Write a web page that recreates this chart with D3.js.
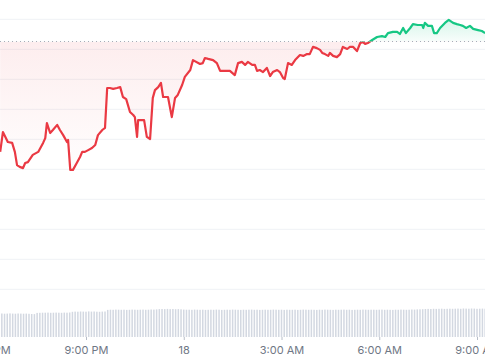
<!DOCTYPE html>
<html>
<head>
  <meta charset="utf-8">
  <script src="https://d3js.org/d3.v7.min.js"></script>
  <style>
    body { margin: 0; background: #fff; }
    .axis text { font-family: Inter, "Noto Sans", sans-serif; font-size: 11px; fill: #6f7785; }
  </style>
</head>
<body>
<script>
// price line (time, value)
var priceTimes = ["17 18:22","17 18:27","17 18:36","17 18:44","17 18:49","17 18:53","17 18:58","17 19:04","17 19:08","17 19:13",
  "17 19:22","17 19:32","17 19:41","17 19:45","17 19:48","17 19:54","17 19:59","17 20:07","17 20:12","17 20:18",
  "17 20:25","17 20:27","17 20:31","17 20:36","17 20:43","17 20:49","17 20:53","17 20:58","17 21:04","17 21:11",
  "17 21:17","17 21:22","17 21:30","17 21:35","17 21:39","17 21:44","17 21:50","17 21:57","17 22:03","17 22:08",
  "17 22:14","17 22:21","17 22:27","17 22:30","17 22:34","17 22:36","17 22:47","17 22:52","17 22:58","17 23:03",
  "17 23:07","17 23:13","17 23:18","17 23:22","17 23:31","17 23:38","17 23:44","17 23:49","17 23:57","18 00:02",
  "18 00:12","18 00:17","18 00:30","18 00:35","18 00:39","18 00:45","18 00:54","18 01:01","18 01:07","18 01:25",
  "18 01:34","18 01:40","18 01:47","18 01:53","18 01:58","18 02:06","18 02:11","18 02:15","18 02:20","18 02:26",
  "18 02:33","18 02:39","18 02:44","18 02:52","18 02:57","18 03:03","18 03:06","18 03:12","18 03:19","18 03:25",
  "18 03:34","18 03:40","18 03:47","18 03:52","18 03:58","18 04:05","18 04:11","18 04:15","18 04:20","18 04:26",
  "18 04:29","18 04:35","18 04:42","18 04:48","18 04:53","18 05:01","18 05:06","18 05:12","18 05:19","18 05:25",
  "18 05:30","18 05:34","18 05:39","18 05:47","18 05:56","18 06:05","18 06:11","18 06:16","18 06:25","18 06:33",
  "18 06:38","18 06:44","18 06:49","18 06:57","18 07:02","18 07:11","18 07:19","18 07:21","18 07:24","18 07:30",
  "18 07:37","18 07:41","18 07:46","18 07:52","18 08:01","18 08:08","18 08:16","18 08:23","18 08:29","18 08:34",
  "18 08:40","18 08:47","18 08:53","18 09:02","18 09:09","18 09:15"];
var priceValues = [145.8,152.4,149.1,148.8,145.8,141.4,140.8,140.4,142.1,142.4,
  144.8,145.8,148.8,150.4,155.4,152.1,153.1,154.8,153.1,151.4,
  149.1,149.8,139.8,139.8,142.1,144.1,145.8,145.8,146.4,147.1,
  148.1,151.4,153.1,153.8,167.1,167.1,166.8,167.1,167.4,164.1,
  163.4,159.1,158.1,157.4,150.8,156.4,156.4,150.8,150.1,163.8,
  166.4,167.4,168.8,164.1,164.1,157.4,163.8,164.8,168.1,170.8,
  173.1,176.4,175.1,175.4,177.1,176.8,176.4,175.4,172.8,172.8,
  171.4,175.4,175.8,174.8,175.8,174.8,174.8,172.8,173.1,172.4,
  173.8,171.1,172.4,173.1,172.4,170.4,170.1,175.4,174.8,176.4,
  178.1,177.8,178.4,178.4,180.8,180.4,179.8,178.8,178.4,177.8,
  178.8,177.8,177.4,178.4,180.8,180.1,180.8,180.8,179.4,182.1,
  182.4,181.8,182.1,183.1,184.1,184.4,184.1,185.4,185.8,185.8,
  185.1,187.1,185.4,187.1,188.4,188.1,188.1,187.1,188.8,187.8,
  187.8,185.4,185.4,187.1,188.8,189.8,188.8,188.4,188.1,187.8,
  187.1,187.8,186.8,186.4,186.1,185.4];
var openValue = 182.6;   // dotted reference line
var priceTicks = [100,110,120,130,140,150,160,170,180,190];

// volume bars every 5 minutes from 17 18:20
var volStart = "17 18:20";
var volValues = [23.4,23.5,23.3,23.4,23.6,23.4,23.3,23.5,23.4,23.3,23.4,23.2,
  23.0,22.9,
  24.1,24.2,24.3,24.3,24.4,24.2,24.3,24.4,24.3,24.2,24.4,24.3,24.5,
  25.2,25.4,25.3,25.5,25.4,25.3,25.6,25.4,25.5,25.3,25.2,25.4,25.5,
  27.1,27.3,27.2,27.4,27.3,27.2,27.3,27.1,27.2,27.4,27.3,27.2,27.3,27.4,27.2,27.3,27.5,27.4,27.6,
  27.9,28.0,27.9,28.1,27.9,28.0,27.8,27.9,27.7,
  27.4,27.3,27.3,27.2,27.4,27.3,27.2,27.3,27.1,27.2,
  27.3,27.2,27.4,27.3,27.1,27.2,27.3,27.2,27.4,27.3,
  27.2,27.1,27.3,27.2,27.3,27.4,27.2,27.3,27.1,27.2,
  27.3,27.2,27.2,27.4,27.3,27.2,27.3,27.1,27.3,27.2,
  27.2,27.3,27.1,27.2,27.4,27.3,27.2,27.3,27.2,27.1,
  27.3,27.2,27.4,27.3,27.2,27.1,27.3,27.2,27.3,27.4,
  27.2,27.3,27.1,27.2,27.3,27.2,27.4,27.3,27.2,27.3,
  27.3,27.2,27.3,27.4,27.2,27.3,27.2,27.1,27.3,27.2,
  27.4,27.3,27.2,27.3,27.5,27.4,27.6,27.7,27.8,28.0,
  28.1,28.0,28.2,28.1,28.2,28.3,28.1,28.2,28.3,28.2,
  28.3,28.4,28.2,28.5,28.4,28.3,28.5,28.4,28.2,28.3,28.4,28.3];

var tickTimes = ["17 18:00","17 21:00","18 00:00","18 03:00","18 06:00","18 09:00"];
var tickLabels = ["6:00 PM","9:00 PM","18","3:00 AM","6:00 AM","9:00 AM"];

var W = 485, H = 360;
var parse = d3.timeParse("%d %H:%M");

var price = priceTimes.map(function(t, i) { return {t: parse(t), v: priceValues[i]}; });
var vol = volValues.map(function(v, i) { return {t: d3.timeMinute.offset(parse(volStart), 5 * i), v: v}; });

var svg = d3.select("body").append("svg")
  .attr("width", W).attr("height", H);

var x = d3.scaleTime()
  .domain([parse("17 18:00"), parse("18 09:00")])
  .range([-11.75, 477]);
var y = d3.scaleLinear().domain([100, 190]).range([289.3, 19.3]);
var yv = d3.scaleLinear().domain([0, 30]).range([337, 307]);

// gridlines
svg.append("g").selectAll("line").data(priceTicks).join("line")
  .attr("x1", 0).attr("x2", W)
  .attr("y1", function(d) { return y(d); }).attr("y2", function(d) { return y(d); })
  .attr("stroke", "#eff2f5").attr("stroke-width", 1);

// volume
svg.append("g").selectAll("rect").data(vol).join("rect")
  .attr("x", function(d) { return x(d.t) - 0.75; })
  .attr("width", 1.5)
  .attr("y", function(d) { return yv(d.v); })
  .attr("height", function(d) { return yv(0) - yv(d.v); })
  .attr("fill", "#d3d8e1");

var by = y(openValue);

var defs = svg.append("defs");
defs.append("clipPath").attr("id", "above")
  .append("rect").attr("x", 0).attr("y", 0).attr("width", W).attr("height", by);
defs.append("clipPath").attr("id", "below")
  .append("rect").attr("x", 0).attr("y", by).attr("width", W).attr("height", H - by);

var gG = defs.append("linearGradient").attr("id", "gGreen")
  .attr("gradientUnits", "userSpaceOnUse").attr("x1", 0).attr("x2", 0).attr("y1", 15).attr("y2", by);
gG.append("stop").attr("offset", 0).attr("stop-color", "#16c784").attr("stop-opacity", 0.2);
gG.append("stop").attr("offset", 1).attr("stop-color", "#16c784").attr("stop-opacity", 0.03);

var gR = defs.append("linearGradient").attr("id", "gRed")
  .attr("gradientUnits", "userSpaceOnUse").attr("x1", 0).attr("x2", 0).attr("y1", by).attr("y2", 180);
gR.append("stop").attr("offset", 0).attr("stop-color", "#ea3943").attr("stop-opacity", 0.09);
gR.append("stop").attr("offset", 1).attr("stop-color", "#ea3943").attr("stop-opacity", 0.0);

var area = d3.area()
  .x(function(d) { return x(d.t); })
  .y0(by)
  .y1(function(d) { return y(d.v); });
var line = d3.line()
  .x(function(d) { return x(d.t); })
  .y(function(d) { return y(d.v); });

svg.append("path").datum(price).attr("d", area)
  .attr("fill", "url(#gRed)").attr("clip-path", "url(#below)");
svg.append("path").datum(price).attr("d", area)
  .attr("fill", "url(#gGreen)").attr("clip-path", "url(#above)");

// dotted open-price line
svg.append("line")
  .attr("x1", 0).attr("x2", W).attr("y1", by).attr("y2", by)
  .attr("stroke", "#a6adb8").attr("stroke-width", 1)
  .attr("stroke-dasharray", "1,3");

svg.append("path").datum(price).attr("d", line)
  .attr("fill", "none").attr("stroke", "#ea3943").attr("stroke-width", 2.2)
  .attr("stroke-linejoin", "round").attr("clip-path", "url(#below)");
svg.append("path").datum(price).attr("d", line)
  .attr("fill", "none").attr("stroke", "#16c784").attr("stroke-width", 2.2)
  .attr("stroke-linejoin", "round").attr("clip-path", "url(#above)");

// x axis
var xAxis = d3.axisBottom(x)
  .tickValues(tickTimes.map(parse))
  .tickFormat(function(d, i) { return tickLabels[i]; })
  .tickSize(3).tickPadding(6);
var gx = svg.append("g").attr("class", "axis")
  .attr("transform", "translate(0,337)")
  .call(xAxis);
gx.select(".domain").remove();
gx.selectAll(".tick line").attr("stroke", "#b8bec8");
</script>
</body>
</html>
